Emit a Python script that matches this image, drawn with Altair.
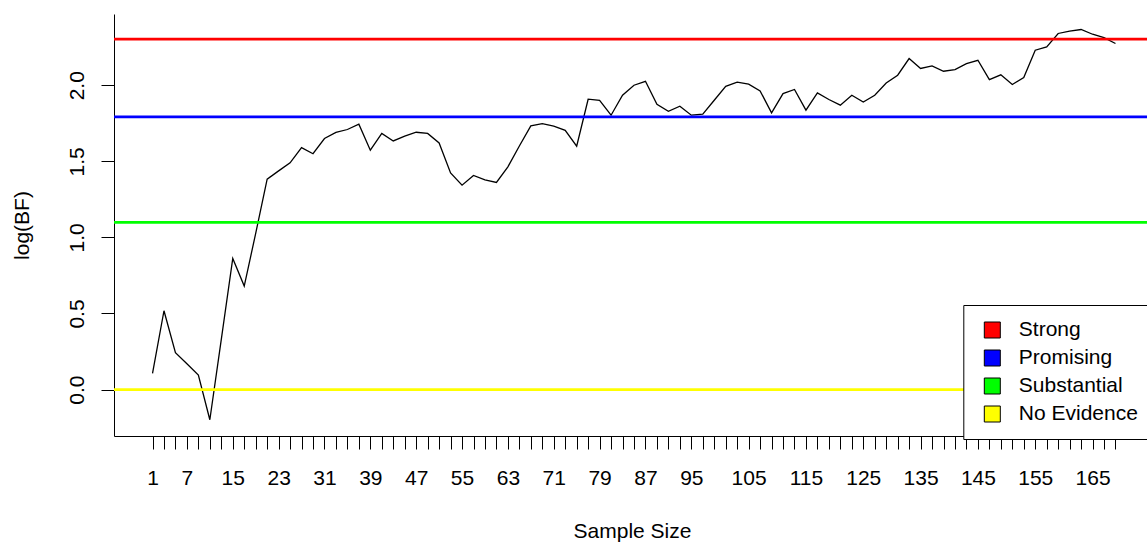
import altair as alt
import pandas as pd

# Bayes factor trajectory: sample size vs log(BF)
sample_size = list(range(1, 170, 2))
log_bf = [
    0.106, 0.518, 0.242, 0.170, 0.095, -0.198, 0.330, 0.862, 0.680, 1.026,
    1.383, 1.437, 1.490, 1.590, 1.550, 1.650, 1.690, 1.709, 1.744, 1.573,
    1.683, 1.634, 1.665, 1.691, 1.683, 1.621, 1.424, 1.343, 1.407, 1.378,
    1.361, 1.464, 1.601, 1.733, 1.748, 1.731, 1.704, 1.599, 1.908, 1.901,
    1.803, 1.934, 2.000, 2.026, 1.875, 1.829, 1.862, 1.803, 1.810, 1.901,
    1.993, 2.020, 2.007, 1.963, 1.818, 1.945, 1.972, 1.836, 1.950, 1.906,
    1.869, 1.934, 1.890, 1.934, 2.015, 2.066, 2.175, 2.110, 2.127, 2.092,
    2.103, 2.142, 2.164, 2.037, 2.068, 2.005, 2.050, 2.230, 2.252, 2.340,
    2.355, 2.366, 2.335, 2.313, 2.274,
]

# tick labels printed under the x axis (every tick is drawn)
x_labels = [1, 7, 15, 23, 31, 39, 47, 55, 63, 71, 79, 87, 95,
            105, 115, 125, 135, 145, 155, 165]
y_ticks = [0.0, 0.5, 1.0, 1.5, 2.0]

# evidence thresholds: log(10), log(6), log(3), log(1)
evidence_levels = ["Strong", "Promising", "Substantial", "No Evidence"]
evidence_bounds = [2.303, 1.792, 1.099, 0.0]
evidence_colors = ["#FF0000", "#0000FF", "#00FF00", "#FFFF00"]

FONT = "Liberation Sans"

traj = pd.DataFrame({"n": sample_size, "bf": log_bf})
levels = pd.DataFrame({"level": evidence_levels, "bound": evidence_bounds})

x_scale = alt.Scale(domain=[-5.72, 174.5], nice=False, zero=False)
y_scale = alt.Scale(domain=[-0.305, 2.468], nice=False, zero=False)

label_list = "[" + ",".join(str(v) for v in x_labels) + "]"

x_axis = alt.Axis(
    values=sample_size,
    labelExpr=f"indexof({label_list}, datum.value) >= 0 ? datum.label : ''",
    format="d",
    grid=False,
    tickSize=13,
    tickColor="black",
    tickWidth=1,
    domainColor="black",
    domainWidth=1,
    labelFont=FONT,
    labelFontSize=21,
    labelColor="black",
    labelPadding=18,
    labelFlush=False,
    labelOverlap=False,
    title="Sample Size",
    titleFont=FONT,
    titleFontSize=21,
    titleFontWeight="normal",
    titleColor="black",
    titleX=518,
    titleY=101.5,
    titleAlign="center",
    titleBaseline="alphabetic",
)

y_axis = alt.Axis(
    values=y_ticks,
    format=".1f",
    grid=False,
    tickSize=13,
    tickColor="black",
    tickWidth=1,
    domainColor="black",
    domainWidth=1,
    labelFont=FONT,
    labelFontSize=21,
    labelColor="black",
    labelAngle=270,
    labelAlign="center",
    labelBaseline="alphabetic",
    labelPadding=17.5,
    labelFlush=False,
    labelOverlap=False,
    title="log(BF)",
    titleFont=FONT,
    titleFontSize=21,
    titleFontWeight="normal",
    titleColor="black",
    titleAngle=270,
    titleX=-86,
    titleY=211,
    titleAlign="center",
    titleBaseline="alphabetic",
)

line = alt.Chart(traj).mark_line(color="black", strokeWidth=1.3).encode(
    x=alt.X("n:Q", scale=x_scale, axis=x_axis),
    y=alt.Y("bf:Q", scale=y_scale, axis=y_axis),
)

# threshold lines: colours follow the level order, no key of their own
rules = alt.Chart(levels).mark_rule(strokeWidth=2.6).encode(
    y=alt.Y("bound:Q", scale=y_scale),
    stroke=alt.Stroke(
        "level:N",
        sort=evidence_levels,
        scale=alt.Scale(range=evidence_colors),
        legend=None,
    ),
)

# key box with filled squares
legend = alt.Legend(
    title=None,
    orient="none",
    legendX=849.3,
    legendY=291,
    symbolType="square",
    symbolSize=256,
    symbolOffset=4,
    symbolStrokeColor="black",
    symbolStrokeWidth=1,
    symbolOpacity=1,
    labelFont=FONT,
    labelFontSize=21,
    labelColor="black",
    labelOffset=16,
    padding=14.5,
    rowPadding=6,
    strokeColor="black",
    fillColor="white",
)

# tiny squares sitting on each threshold line, carrying the filled-square key
keys = alt.Chart(levels).mark_square(filled=True, size=1, opacity=1).encode(
    y=alt.Y("bound:Q", scale=y_scale),
    fill=alt.Fill(
        "level:N",
        scale=alt.Scale(domain=evidence_levels, range=evidence_colors),
        legend=legend,
    ),
)

chart = (
    alt.layer(line, rules, keys)
    .properties(
        width=1033,
        height=422,
        autosize=alt.AutoSizeParams(type="none"),
        padding={"left": 114, "top": 14, "right": 0, "bottom": 108},
        background="white",
    )
    .configure_view(stroke=None)
)

chart.save("out.html", embed_options={"renderer": "svg", "actions": False})
